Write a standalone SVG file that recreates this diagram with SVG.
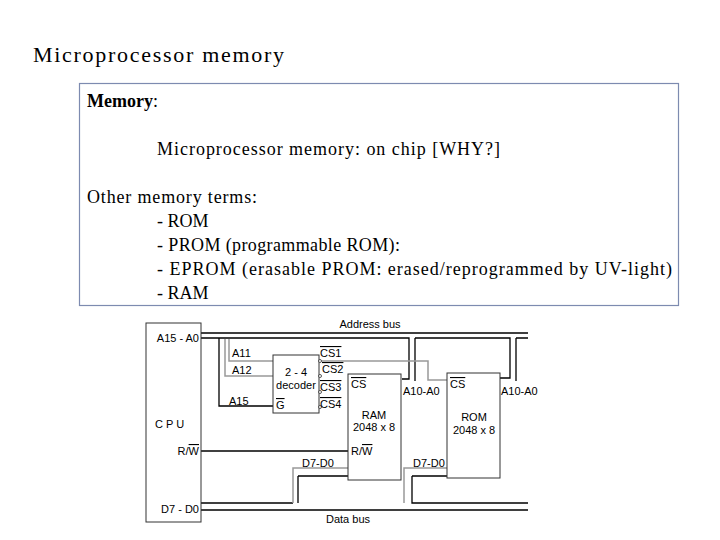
<svg xmlns="http://www.w3.org/2000/svg" width="720" height="540" viewBox="0 0 720 540">
<style>
.t{font-family:"Liberation Serif",serif;font-size:18px;fill:#000}
.s{font-family:"Liberation Sans",sans-serif;font-size:11px;fill:#000}
.k{fill:none;stroke:#000;stroke-width:1.3}
.g{fill:none;stroke:#999;stroke-width:1.5}
.b{fill:#fff;stroke:#333;stroke-width:1}
</style>
<rect width="720" height="540" fill="#fff"/>
<text x="33" y="62" class="t" style="font-size:22px" textLength="251">Microprocessor memory</text>
<rect x="79.5" y="83.5" width="599" height="222" fill="#fff" stroke="#7d8bb0" stroke-width="1.2"/>
<g class="t">
<text x="87" y="107"><tspan font-weight="bold">Memory</tspan>:</text>
<text x="157" y="155" textLength="343">Microprocessor memory: on chip [WHY?]</text>
<text x="87" y="203" textLength="170">Other memory terms:</text>
<text x="157" y="227">- ROM</text>
<text x="157" y="251" textLength="243">- PROM (programmable ROM):</text>
<text x="157" y="275" textLength="515">- EPROM (erasable PROM: erased/reprogrammed by UV-light)</text>
<text x="157" y="299">- RAM</text>
</g>
<g id="connectors">
<path class="k" d="M201 333H528 M201 338H409V379H402 M415 338V381 M415 338H510V378H500 M516 338V381 M516 338H528"/>
<path class="g" d="M229 339V361H273 M225 339V376H273 M319 361H428V380H447"/>
<path class="k" d="M219 338V406H273"/>
<path class="k" d="M201 451H348" stroke-width="1"/>
<path class="k" d="M201 510H528 M201 503H293 M298 476V503 M298 476H348 M412 476V503H528 M412 476H447"/>
<path class="g" d="M293 503V468H348 M404 503V468H447"/>
</g>
<g id="cpu"><rect class="b" x="146" y="323" width="55" height="199"/>
<text class="s" x="199" y="342" text-anchor="end">A15 - A0</text>
<text class="s" x="155" y="428">C P U</text>
<text class="s" x="199" y="455" text-anchor="end">R/<tspan text-decoration="overline">W</tspan></text>
<text class="s" x="199" y="513" text-anchor="end">D7 - D0</text></g>
<g id="decoder"><rect class="b" x="273" y="355" width="46" height="58"/>
<text class="s" x="296" y="376" text-anchor="middle">2 - 4</text>
<text class="s" x="296" y="389" text-anchor="middle">decoder</text>
<text class="s" x="276" y="409" text-decoration="overline">G</text>
<g fill="#fff" stroke="#333" stroke-width=".8"><circle cx="320" cy="361" r="1.5"/><circle cx="320" cy="376" r="1.5"/><circle cx="320" cy="392" r="1.5"/><circle cx="320" cy="407" r="1.5"/></g>
<text class="s" x="320" y="357" text-decoration="overline">CS1</text>
<text class="s" x="322" y="373" text-decoration="overline">CS2</text>
<text class="s" x="320" y="391" text-decoration="overline">CS3</text>
<text class="s" x="320" y="408" text-decoration="overline">CS4</text>
<text class="s" x="232" y="357">A11</text><text class="s" x="232" y="374">A12</text><text class="s" x="229" y="405">A15</text></g>
<g id="ram"><rect class="b" x="348" y="374" width="53" height="106"/>
<text class="s" x="351" y="388" text-decoration="overline">CS</text>
<text class="s" x="374" y="419" text-anchor="middle">RAM</text>
<text class="s" x="374" y="431" text-anchor="middle">2048 x 8</text>
<text class="s" x="351" y="455">R/<tspan text-decoration="overline">W</tspan></text></g>
<g id="rom"><rect class="b" x="447" y="373" width="53" height="105"/>
<text class="s" x="450" y="388" text-decoration="overline">CS</text>
<text class="s" x="474" y="421" text-anchor="middle">ROM</text>
<text class="s" x="474" y="434" text-anchor="middle">2048 x 8</text></g>
<g id="labels">
<text class="s" x="370" y="328" text-anchor="middle">Address bus</text>
<text class="s" x="348" y="523" text-anchor="middle">Data bus</text>
<text class="s" x="403" y="395">A10-A0</text><text class="s" x="501" y="395">A10-A0</text>
<text class="s" x="302" y="467">D7-D0</text><text class="s" x="413" y="467">D7-D0</text></g>
</svg>
